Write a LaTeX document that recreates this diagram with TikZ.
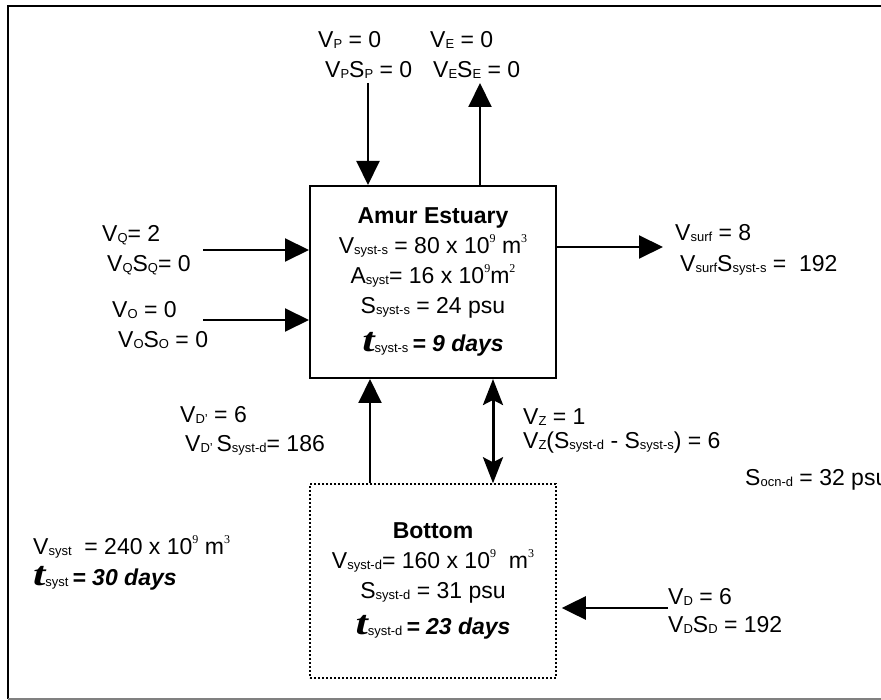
\documentclass[tikz,border=0pt]{standalone}
\usepackage{fontspec}
\setmainfont{Liberation Sans}
\newfontfamily\supfont{Liberation Serif}
\usepackage{tikz}
\usetikzlibrary{arrows.meta,positioning}
\newcommand{\sbs}[1]{\raisebox{-1pt}{\fontsize{13}{13}\selectfont #1}}
\newcommand{\sps}[1]{\raisebox{11pt}{\supfont\fontsize{12}{12}\selectfont #1}}
\newcommand{\tausym}{{\supfont\bfseries\itshape\fontsize{34}{34}\selectfont\scalebox{1.3}[1]{t}}}

\begin{document}
\begin{tikzpicture}[
x=1pt, y=-1pt,
box/.style={draw, line width=2pt, minimum width=246pt, minimum height=192pt, align=center, inner sep=0pt, font=\fontsize{23}{30}\selectfont},
lowbox/.style={box, dotted, line width=1.5pt, minimum height=194pt},
lbl/.style={anchor=west, inner sep=0pt, font=\fontsize{23}{23}\selectfont},
arrow/.style={-{Triangle[length=24pt,width=23pt]}, line width=2pt},
twoway/.style={{Stealth[length=26pt,width=20pt,inset=5pt]}-{Stealth[length=26pt,width=20pt,inset=5pt]}, line width=3pt}
]
\useasboundingbox (0,0) rectangle (881,700);
\draw[line width=2pt] (881,6) -- (8,6) -- (8,699);
\draw[line width=1.5pt, gray] (8,699) -- (881,699);

\node[box] (estuary) at (433,282) {\textbf{Amur Estuary}\\
V\sbs{syst-s} = 80 x 10\sps{9} m\sps{3}\\
A\sbs{syst}= 16 x 10\sps{9}m\sps{2}\\
S\sbs{syst-s} = 24 psu\\[8pt]
\tausym\sbs{syst-s}\,\textbf{\textit{= 9 days}}};
\node[lowbox] (bottom) at (433,581) {\textbf{Bottom}\\
V\sbs{syst-d}= 160 x 10\sps{9}\ \ m\sps{3}\\
S\sbs{syst-d} = 31 psu\\[6pt]
\tausym\sbs{syst-d}\,\textbf{\textit{= 23 days}}};

\coordinate (pin) at (368,83);
\coordinate (eout) at (480,83);
\coordinate (qin) at (203,250);
\coordinate (oin) at (203,320);
\coordinate (surfout) at (663,247);
\coordinate (din) at (668,608);

\node[lbl] (vp) at (318,40) {V\sbs{P} = 0};
\node[lbl] (vps) at (325,70) {V\sbs{P}S\sbs{P} = 0};
\node[lbl] (ve) at (430,40) {V\sbs{E} = 0};
\node[lbl] (ves) at (433,70) {V\sbs{E}S\sbs{E} = 0};
\node[lbl] (vq) at (102,235) {V\sbs{Q}= 2};
\node[lbl] (vqs) at (107,265) {V\sbs{Q}S\sbs{Q}= 0};
\node[lbl] (vo) at (112,310) {V\sbs{O} = 0};
\node[lbl] (vos) at (118,340) {V\sbs{O}S\sbs{O} = 0};
\node[lbl] (vsurf) at (675,233) {V\sbs{surf} = 8};
\node[lbl] (vsurfs) at (680,265) {V\sbs{surf}S\sbs{syst-s} =\ \ 192};
\node[lbl] (vdp) at (180,415) {V\sbs{D'} = 6};
\node[lbl] (vdps) at (185,445) {V\sbs{D'}\,S\sbs{syst-d}= 186};
\node[lbl] (vz) at (523,417) {V\sbs{Z} = 1};
\node[lbl] (vzs) at (523,443) {V\sbs{Z}(S\sbs{syst-d} - S\sbs{syst-s}) = 6};
\node[lbl] (socn) at (745,480) {S\sbs{ocn-d} = 32 psu};
\node[lbl] (vsyst) at (33,547) {V\sbs{syst}\ \ = 240 x 10\sps{9} m\sps{3}};
\node[lbl] (tsyst) at (33,578) {\tausym\sbs{syst}\,\textbf{\textit{= 30 days}}};
\node[lbl] (vd) at (668,597) {V\sbs{D} = 6};
\node[lbl] (vds) at (668,625) {V\sbs{D}S\sbs{D} = 192};

\draw[arrow] (pin) -- ([xshift=-65pt]estuary.north);
\draw[arrow] ([xshift=47pt]estuary.north) -- (eout);
\draw[arrow] (qin) -- ([yshift=32pt]estuary.west);
\draw[arrow] (oin) -- ([yshift=-38pt]estuary.west);
\draw[arrow] ([yshift=35pt]estuary.east) -- (surfout);
\draw[arrow] ([xshift=-63pt]bottom.north) -- ([xshift=-63pt]estuary.south);
\draw[twoway] ([xshift=60pt]estuary.south) -- ([xshift=60pt]bottom.north);
\draw[arrow, line width=2.5pt, shorten >=5pt] (din) -- ([yshift=-27pt]bottom.east);
\end{tikzpicture}
\end{document}
